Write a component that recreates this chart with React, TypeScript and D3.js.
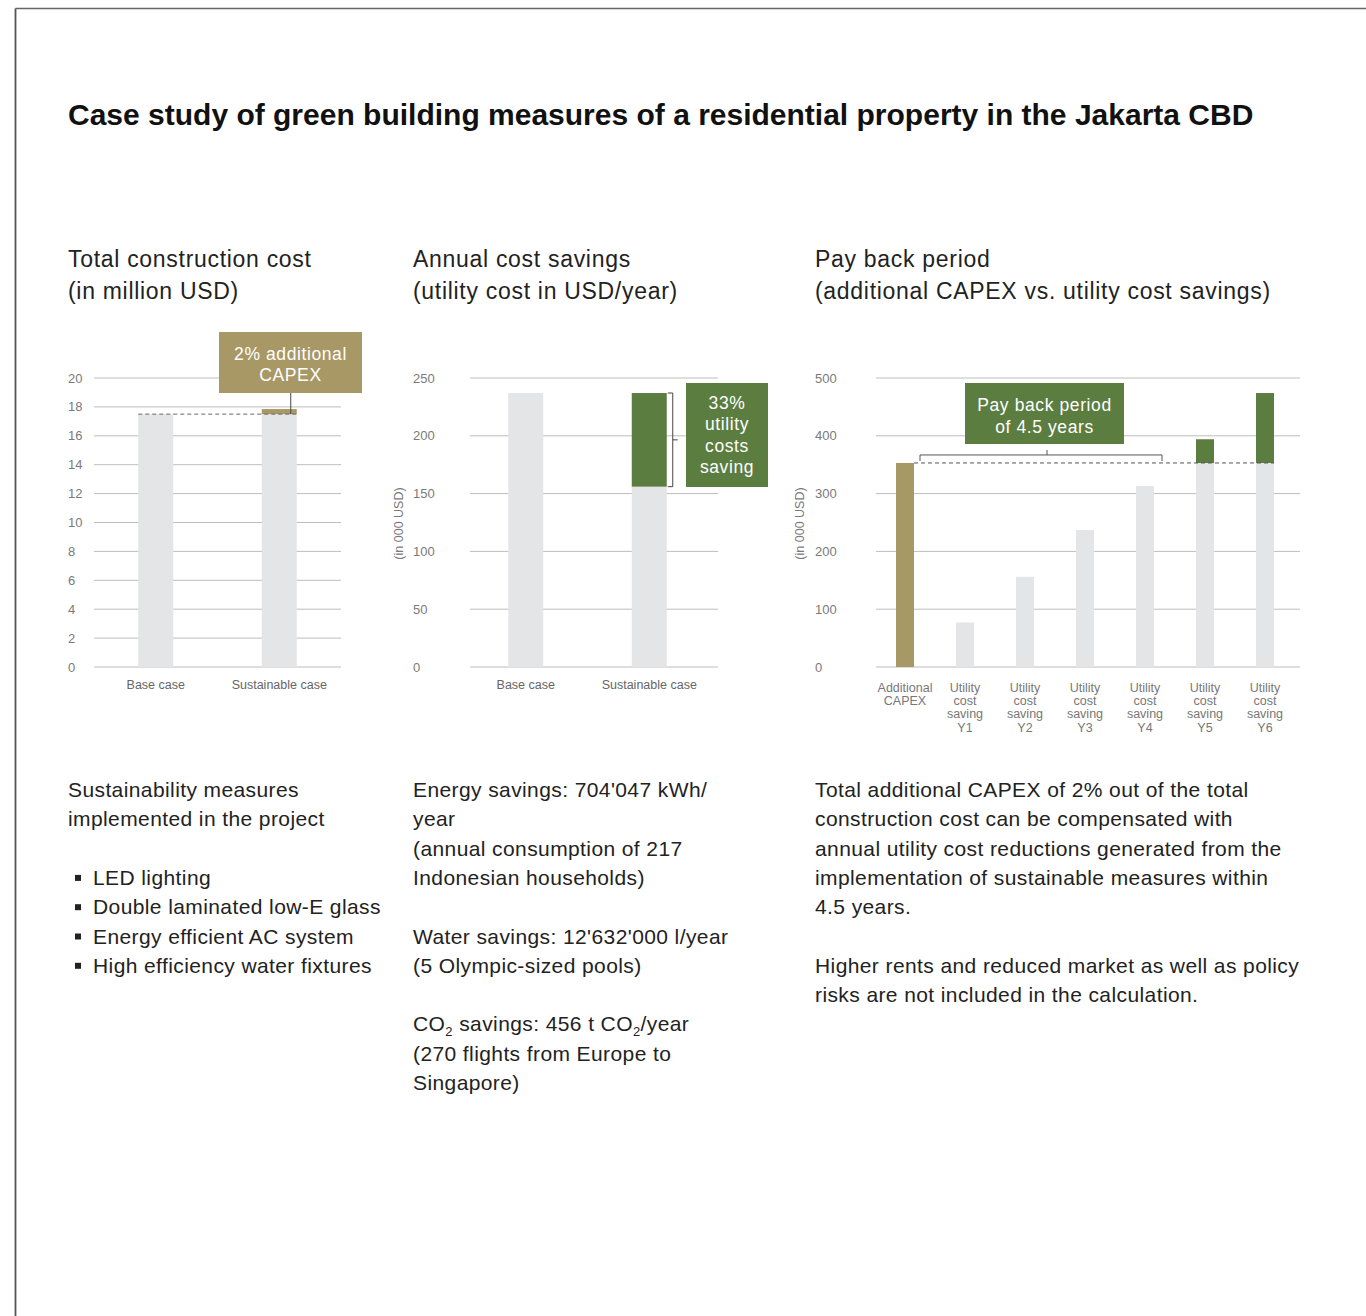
import React from "react";
import * as d3 from "d3";

const TITLE = "Case study of green building measures of a residential property in the Jakarta CBD";

// Chart 1: Total construction cost (million USD)
const c1Categories = ["Base case", "Sustainable case"];
const c1Base = [17.5, 17.5];
const c1Additional = [0, 0.35];
const c1Ticks = [0, 2, 4, 6, 8, 10, 12, 14, 16, 18, 20];

// Chart 2: Annual utility cost (000 USD / year)
const c2Categories = ["Base case", "Sustainable case"];
const c2Cost = [237, 156];
const c2Saving = [0, 81];
const c2Ticks = [0, 50, 100, 150, 200, 250];

// Chart 3: Pay back period (000 USD)
const c3Categories = [
  ["Additional", "CAPEX"],
  ["Utility", "cost", "saving", "Y1"],
  ["Utility", "cost", "saving", "Y2"],
  ["Utility", "cost", "saving", "Y3"],
  ["Utility", "cost", "saving", "Y4"],
  ["Utility", "cost", "saving", "Y5"],
  ["Utility", "cost", "saving", "Y6"],
];
const c3Capex = 353;
const c3Cumulative = [0, 77, 156, 237, 313, 394, 474];
const c3Ticks = [0, 100, 200, 300, 400, 500];

const measuresIntro = ["Sustainability measures", "implemented in the project"];
const measures = [
  "LED lighting",
  "Double laminated low-E glass",
  "Energy efficient AC system",
  "High efficiency water fixtures",
];
const col3Text = [
  "Total additional CAPEX of 2% out of the total",
  "construction cost can be compensated with",
  "annual utility cost reductions generated from the",
  "implementation of sustainable measures within",
  "4.5 years.",
  "",
  "Higher rents and reduced market as well as policy",
  "risks are not included in the calculation.",
];

const FONT = "'Liberation Sans', Arial, Helvetica, sans-serif";
const GREY = "#E4E5E7";
const GOLD = "#A89866";
const GREEN = "#5B7D3F";
const GRID = "#BDBDBD";
const TICK = "#7a7a7a";
const TEXT = "#222";

const Y0 = 667;
const YTOP = 378;

function App() {
  // ---------- Chart 1 ----------
  const y1 = d3.scaleLinear().domain([0, 20]).range([Y0, YTOP]);
  const x1 = d3.scalePoint<string>().domain(c1Categories).range([94, 341]).padding(0.5);
  const g1x0 = 94, g1x1 = 341;
  const bw1 = 35;

  // ---------- Chart 2 ----------
  const y2 = d3.scaleLinear().domain([0, 250]).range([Y0, YTOP]);
  const x2 = d3.scalePoint<string>().domain(c2Categories).range([464, 711]).padding(0.5);
  const g2x0 = 470, g2x1 = 718;
  const bw2 = 35;

  // ---------- Chart 3 ----------
  const y3 = d3.scaleLinear().domain([0, 500]).range([Y0, YTOP]);
  const keys3 = c3Categories.map((c) => c.join(" "));
  const x3 = d3.scalePoint<string>().domain(keys3).range([875, 1295]).padding(0.5);
  const g3x0 = 876, g3x1 = 1300;
  const bw3 = 18;

  const sustX = x1("Sustainable case")!;
  const sustX2 = x2("Sustainable case")!;

  const lineH = 29.3;
  const textY0 = 797;

  const boxText = { fontSize: 17.5, fill: "#fff", letterSpacing: 0.6, textAnchor: "middle" as const };

  return (
    <svg
      width={1366}
      height={1316}
      style={{ position: "absolute", left: 0, top: 0, background: "#fff" }}
      fontFamily={FONT}
    >
      {/* frame */}
      <line x1={15.5} y1={8.5} x2={1366} y2={8.5} stroke="#666" strokeWidth={1.5} />
      <line x1={15.5} y1={8.5} x2={15.5} y2={1316} stroke="#555" strokeWidth={1.8} />

      <text x={68} y={125} fontSize={30} fontWeight="bold" fill="#111">
        {TITLE}
      </text>

      {/* subtitles */}
      <g fontSize={23} fill={TEXT} letterSpacing={0.7}>
        <text x={68} y={267}>Total construction cost</text>
        <text x={68} y={299}>(in million USD)</text>
        <text x={413} y={267}>Annual cost savings</text>
        <text x={413} y={299}>(utility cost in USD/year)</text>
        <text x={815} y={267}>Pay back period</text>
        <text x={815} y={299}>(additional CAPEX vs. utility cost savings)</text>
      </g>

      {/* ===== Chart 1 ===== */}
      <g>
        {c1Ticks.map((t) => (
          <g key={t}>
            <line x1={g1x0} x2={g1x1} y1={y1(t)} y2={y1(t)} stroke={GRID} strokeWidth={1} />
            <text x={68} y={y1(t) + 4.5} fontSize={13} fill={TICK}>{t}</text>
          </g>
        ))}
        {c1Categories.map((c, i) => (
          <g key={c}>
            <rect x={x1(c)! - bw1 / 2} y={y1(c1Base[i])} width={bw1} height={Y0 - y1(c1Base[i])} fill={GREY} />
            {c1Additional[i] > 0 && (
              <rect
                x={x1(c)! - bw1 / 2}
                y={y1(c1Base[i] + c1Additional[i])}
                width={bw1}
                height={y1(c1Base[i]) - y1(c1Base[i] + c1Additional[i])}
                fill={GOLD}
              />
            )}
            <text x={x1(c)!} y={689} fontSize={12.5} fill="#666" textAnchor="middle">{c}</text>
          </g>
        ))}
        <line
          x1={x1("Base case")! - bw1 / 2}
          x2={sustX + bw1 / 2}
          y1={y1(c1Base[0])}
          y2={y1(c1Base[0])}
          stroke="#666"
          strokeWidth={1}
          strokeDasharray="4,3"
        />
        <line x1={sustX + 11.5} x2={sustX + 11.5} y1={393} y2={y1(c1Base[1])} stroke="#444" strokeWidth={1} />
        <rect x={219} y={332} width={143} height={61} fill={GOLD} />
        <text x={290.5} y={360} {...boxText}>2% additional</text>
        <text x={290.5} y={381} {...boxText}>CAPEX</text>
      </g>

      {/* ===== Chart 2 ===== */}
      <g>
        {c2Ticks.map((t) => (
          <g key={t}>
            <line x1={g2x0} x2={g2x1} y1={y2(t)} y2={y2(t)} stroke={GRID} strokeWidth={1} />
            <text x={413} y={y2(t) + 4.5} fontSize={13} fill={TICK}>{t}</text>
          </g>
        ))}
        <text
          transform={`translate(403,${(Y0 + YTOP) / 2 + 1}) rotate(-90)`}
          fontSize={12.5}
          fill={TICK}
          textAnchor="middle"
        >
          (in 000 USD)
        </text>
        {c2Categories.map((c, i) => (
          <g key={c}>
            <rect x={x2(c)! - bw2 / 2} y={y2(c2Cost[i])} width={bw2} height={Y0 - y2(c2Cost[i])} fill={GREY} />
            {c2Saving[i] > 0 && (
              <rect
                x={x2(c)! - bw2 / 2}
                y={y2(c2Cost[i] + c2Saving[i])}
                width={bw2}
                height={y2(c2Cost[i]) - y2(c2Cost[i] + c2Saving[i])}
                fill={GREEN}
              />
            )}
            <text x={x2(c)!} y={689} fontSize={12.5} fill="#666" textAnchor="middle">{c}</text>
          </g>
        ))}
        {(() => {
          const top = y2(c2Cost[1] + c2Saving[1]);
          const bot = y2(c2Cost[1]);
          const bx = sustX2 + bw2 / 2 + 6;
          const mid = (top + bot) / 2;
          return (
            <g stroke="#444" strokeWidth={1} fill="none">
              <path d={`M${bx - 5},${top}H${bx}V${bot}H${bx - 5}`} />
              <line x1={bx} x2={bx + 5} y1={mid} y2={mid} />
            </g>
          );
        })()}
        <rect x={686} y={383} width={82} height={104} fill={GREEN} />
        {["33%", "utility", "costs", "saving"].map((t, i) => (
          <text key={t} x={727} y={409 + i * 21.3} {...boxText}>{t}</text>
        ))}
      </g>

      {/* ===== Chart 3 ===== */}
      <g>
        {c3Ticks.map((t) => (
          <g key={t}>
            <line x1={g3x0} x2={g3x1} y1={y3(t)} y2={y3(t)} stroke={GRID} strokeWidth={1} />
            <text x={815} y={y3(t) + 4.5} fontSize={13} fill={TICK}>{t}</text>
          </g>
        ))}
        <text
          transform={`translate(804,${(Y0 + YTOP) / 2 + 1}) rotate(-90)`}
          fontSize={12.5}
          fill={TICK}
          textAnchor="middle"
        >
          (in 000 USD)
        </text>
        {keys3.map((k, i) => {
          const cx = x3(k)!;
          if (i === 0) {
            return (
              <rect key={k} x={cx - bw3 / 2} y={y3(c3Capex)} width={bw3} height={Y0 - y3(c3Capex)} fill={GOLD} />
            );
          }
          const v = c3Cumulative[i];
          const greyV = Math.min(v, c3Capex);
          return (
            <g key={k}>
              <rect x={cx - bw3 / 2} y={y3(greyV)} width={bw3} height={Y0 - y3(greyV)} fill={GREY} />
              {v > c3Capex && (
                <rect x={cx - bw3 / 2} y={y3(v)} width={bw3} height={y3(c3Capex) - y3(v)} fill={GREEN} />
              )}
            </g>
          );
        })}
        {keys3.map((k, i) => (
          <text key={k} x={x3(k)!} fontSize={12.5} fill="#777" textAnchor="middle">
            {c3Categories[i].map((l, j) => (
              <tspan key={j} x={x3(k)!} y={691.5 + j * 13.4}>{l}</tspan>
            ))}
          </text>
        ))}
        <line
          x1={x3(keys3[0])! + bw3 / 2}
          x2={x3(keys3[6])! + bw3 / 2}
          y1={y3(c3Capex)}
          y2={y3(c3Capex)}
          stroke="#555"
          strokeWidth={1}
          strokeDasharray="4,3"
        />
        {(() => {
          const yb = y3(c3Capex) - 8;
          const xa = x3(keys3[0])! + bw3 / 2 + 6;
          const xb = x3(keys3[4])! + 17;
          const xm = 1047;
          return (
            <g stroke="#555" strokeWidth={1} fill="none">
              <path d={`M${xa},${yb + 6}V${yb}H${xb}V${yb + 6}`} />
              <line x1={xm} x2={xm} y1={yb} y2={yb - 5} />
            </g>
          );
        })()}
        <rect x={965} y={383} width={159} height={61} fill={GREEN} />
        <text x={1044.5} y={411} {...boxText}>Pay back period</text>
        <text x={1044.5} y={433} {...boxText}>of 4.5 years</text>
      </g>

      {/* ===== Bottom text ===== */}
      <g fontSize={21} fill={TEXT} letterSpacing={0.4}>
        {measuresIntro.map((t, i) => (
          <text key={t} x={68} y={textY0 + i * lineH}>{t}</text>
        ))}
        {measures.map((t, i) => (
          <g key={t}>
            <rect x={75} y={textY0 + (3 + i) * lineH - 10} width={6} height={6} fill={TEXT} />
            <text x={93} y={textY0 + (3 + i) * lineH}>{t}</text>
          </g>
        ))}

        <text x={413} y={textY0}>Energy savings: 704'047 kWh/</text>
        <text x={413} y={textY0 + lineH}>year</text>
        <text x={413} y={textY0 + 2 * lineH}>(annual consumption of 217</text>
        <text x={413} y={textY0 + 3 * lineH}>Indonesian households)</text>
        <text x={413} y={textY0 + 5 * lineH}>Water savings: 12'632'000 l/year</text>
        <text x={413} y={textY0 + 6 * lineH}>(5 Olympic-sized pools)</text>
        <text x={413} y={textY0 + 8 * lineH}>
          CO<tspan fontSize={13} dy={5}>2</tspan>
          <tspan dy={-5}> savings: 456 t CO</tspan>
          <tspan fontSize={13} dy={5}>2</tspan>
          <tspan dy={-5}>/year</tspan>
        </text>
        <text x={413} y={textY0 + 9 * lineH}>(270 flights from Europe to</text>
        <text x={413} y={textY0 + 10 * lineH}>Singapore)</text>

        {col3Text.map((t, i) =>
          t ? (
            <text key={i} x={815} y={textY0 + i * lineH}>{t}</text>
          ) : null
        )}
      </g>
    </svg>
  );
}

export default App;
